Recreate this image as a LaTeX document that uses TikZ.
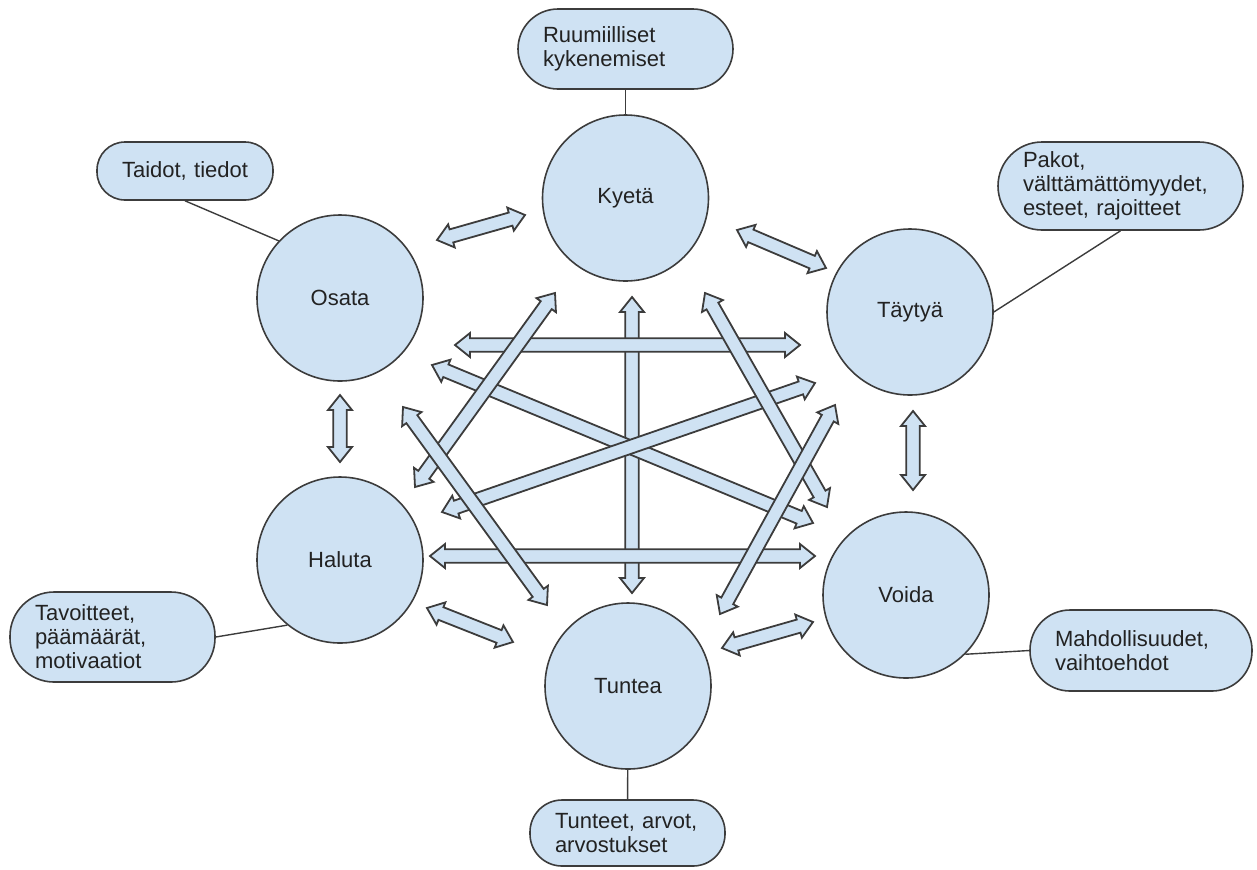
\documentclass[tikz,border=0pt]{standalone}
\usepackage{fontspec}
\setmainfont{Liberation Sans}
\usetikzlibrary{calc}
\definecolor{PaleBlue}{RGB}{207,226,243}
\definecolor{EdgeGray}{RGB}{60,60,60}
\definecolor{TextGray}{RGB}{34,34,34}
\newcommand{\blockarrow}[3][]{
    \draw[#1] (#2) -- ($($(#2)!7.5pt!(#3)$)!6pt!90:(#3)$) -- ($($(#2)!7.5pt!(#3)$)!3.4pt!90:(#3)$) -- ($($(#3)!7.5pt!(#2)$)!3.4pt!-90:(#2)$) -- ($($(#3)!7.5pt!(#2)$)!6pt!-90:(#2)$) -- (#3) -- ($($(#3)!7.5pt!(#2)$)!6pt!90:(#2)$) -- ($($(#3)!7.5pt!(#2)$)!3.4pt!90:(#2)$) -- ($($(#2)!7.5pt!(#3)$)!3.4pt!-90:(#3)$) -- ($($(#2)!7.5pt!(#3)$)!6pt!-90:(#3)$) -- cycle;
}

\begin{document}
\begin{tikzpicture}[x=0.5pt, y=-0.5pt,
    every node/.style={font=\fontsize{11}{12}\selectfont, text=TextGray},
    verb/.style={circle, draw=EdgeGray, line width=0.8pt, fill=PaleBlue, minimum size=83pt, inner sep=0pt},
    note/.style={draw=EdgeGray, line width=0.8pt, fill=PaleBlue, rounded corners=20pt, align=left, inner xsep=12.5pt, inner ysep=0pt},
    link/.style={draw=EdgeGray, line width=0.7pt},
    dbl/.style={draw=EdgeGray, line width=0.9pt, fill=PaleBlue}]
\useasboundingbox (0,0) rectangle (1257,869);
%Circles
\node[verb] (kyeta) at (625.5,198) {Kyetä};
\node[verb] (osata) at (340,298) {Osata};
\node[verb] (taytya) at (910,312) {Täytyä};
\node[verb] (haluta) at (340,560) {Haluta};
\node[verb] (voida) at (906,595) {Voida};
\node[verb] (tuntea) at (628,686) {Tuntea};
%Notes
\node[note, text width=82.5pt, minimum height=40pt] (ruumiil) at (625.5,49) {Ruumiilliset\\kykenemiset};
\node[note, text width=63pt, minimum height=29pt, rounded corners=14pt] (taidot) at (185,171) {Taidot, tiedot};
\node[note, text width=97.5pt, minimum height=44pt, rounded corners=22pt] (pakot) at (1120.5,186) {Pakot,\\välttämättömyydet,\\esteet, rajoitteet};
\node[note, text width=86pt, minimum height=40.5pt] (mahdoll) at (1141,650.5) {Mahdollisuudet,\\vaihtoehdot};
\node[note, text width=77.5pt, minimum height=45pt, rounded corners=22pt] (tavoitteet) at (112.5,637) {Tavoitteet,\\päämäärät,\\motivaatiot};
\node[note, text width=72.5pt, minimum height=33pt, rounded corners=16pt] (tunteet) at (627.5,833) {Tunteet, arvot,\\arvostukset};
%Links
\draw[link] (ruumiil) -- (kyeta);
\draw[link] (taidot.south) -- (osata.137);
\draw[link] (pakot.south) -- (taytya.east);
\draw[link] (tavoitteet.east) -- (haluta.231);
\draw[link] (mahdoll.west) -- (voida.-45);
\draw[link] (tunteet) -- (tuntea);
%Arrow ends
\coordinate (osky) at (437,240); \coordinate (kyos) at (525,215);
\coordinate (kyta) at (737,230); \coordinate (taky) at (826,268);
\coordinate (osha) at (340,395); \coordinate (haos) at (340,462);
\coordinate (tavo) at (913,411); \coordinate (vota) at (913,490);
\coordinate (hatu) at (427,608); \coordinate (tuha) at (513,642);
\coordinate (tuvo) at (722,648); \coordinate (votu) at (813,622);
\coordinate (osta) at (455,345); \coordinate (taos) at (800,345);
\coordinate (havo) at (430,556); \coordinate (voha) at (815,556);
\coordinate (kytu) at (632,297); \coordinate (tuky) at (632,593);
\coordinate (osvo) at (432,365); \coordinate (voos) at (813,523);
\coordinate (hata) at (442,512); \coordinate (taha) at (815,383);
\coordinate (kyha) at (555,293); \coordinate (haky) at (415,487);
\coordinate (ostu) at (403,407); \coordinate (tuos) at (547,605);
\coordinate (kyvo) at (705,293); \coordinate (voky) at (827,507);
\coordinate (tatu) at (835,405); \coordinate (tuta) at (720,614);
%Outer arrows
\blockarrow[dbl]{osky}{kyos}
\blockarrow[dbl]{kyta}{taky}
\blockarrow[dbl]{osha}{haos}
\blockarrow[dbl]{tavo}{vota}
\blockarrow[dbl]{hatu}{tuha}
\blockarrow[dbl]{tuvo}{votu}
%Inner arrows
\blockarrow[dbl]{kytu}{tuky}
\blockarrow[dbl]{osta}{taos}
\blockarrow[dbl]{havo}{voha}
\blockarrow[dbl]{osvo}{voos}
\blockarrow[dbl]{hata}{taha}
\blockarrow[dbl]{kyha}{haky}
\blockarrow[dbl]{ostu}{tuos}
\blockarrow[dbl]{kyvo}{voky}
\blockarrow[dbl]{tatu}{tuta}
\end{tikzpicture}
\end{document}
